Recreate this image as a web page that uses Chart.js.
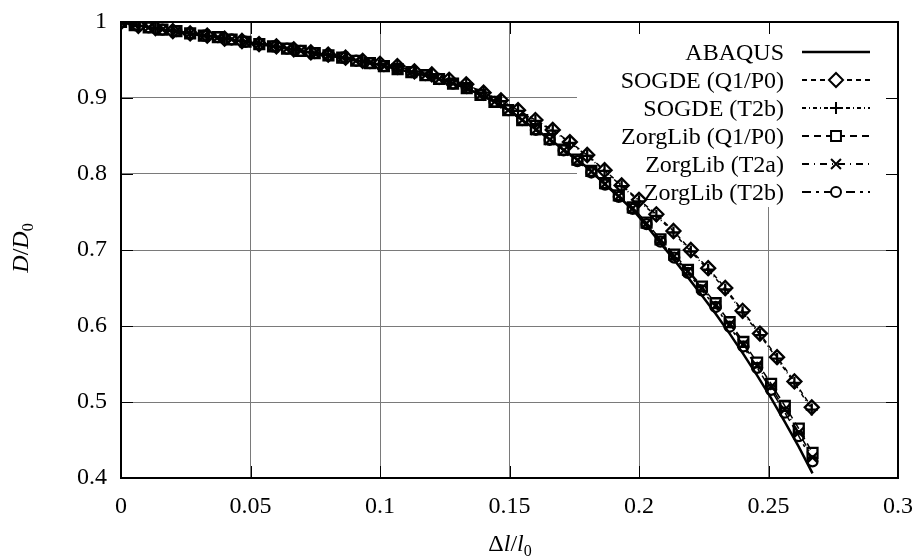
<!DOCTYPE html>
<html>
<head>
<meta charset="utf-8">
<script src="https://cdn.jsdelivr.net/npm/chart.js@4.4.1/dist/chart.umd.min.js"></script>
<style>
  html, body { margin: 0; padding: 0; background: #fff; }
  canvas { display: block; }
</style>
</head>
<body>
<canvas id="chart" width="915" height="559"></canvas>
<script>
const SERIF = '"Liberation Serif", "Times New Roman", serif';

const xTicks = [0, 0.05, 0.1, 0.15, 0.2, 0.25, 0.3];
const xTickLabels = ['0', '0.05', '0.1', '0.15', '0.2', '0.25', '0.3'];
const yTicks = [0.4, 0.5, 0.6, 0.7, 0.8, 0.9, 1];
const yTickLabels = ['0.4', '0.5', '0.6', '0.7', '0.8', '0.9', '1'];

const keyLabels = ['ABAQUS', 'SOGDE (Q1/P0)', 'SOGDE (T2b)', 'ZorgLib (Q1/P0)', 'ZorgLib (T2a)', 'ZorgLib (T2b)'];

// ZorgLib / ABAQUS load steps
const zorgX = [0, 0.0053, 0.0107, 0.0160, 0.0214, 0.0267, 0.0320, 0.0374, 0.0427, 0.0481,
  0.0534, 0.0587, 0.0641, 0.0694, 0.0748, 0.0801, 0.0854, 0.0908, 0.0961, 0.1015,
  0.1068, 0.1121, 0.1175, 0.1228, 0.1282, 0.1335, 0.1388, 0.1442, 0.1495, 0.1549,
  0.1602, 0.1655, 0.1709, 0.1762, 0.1816, 0.1869, 0.1922, 0.1976, 0.2029, 0.2083,
  0.2136, 0.2189, 0.2243, 0.2296, 0.2350, 0.2403, 0.2456, 0.2510, 0.2563, 0.2617, 0.2670];

const abaqus = [1.000, 0.996, 0.993, 0.990, 0.988, 0.985, 0.982, 0.980, 0.977, 0.974,
  0.971, 0.968, 0.965, 0.962, 0.959, 0.956, 0.953, 0.949, 0.946, 0.942,
  0.938, 0.934, 0.930, 0.925, 0.919, 0.913, 0.904, 0.895, 0.884, 0.871,
  0.859, 0.846, 0.832, 0.819, 0.804, 0.786, 0.770, 0.753, 0.732, 0.709,
  0.687, 0.664, 0.640, 0.616, 0.590, 0.563, 0.535, 0.505, 0.474, 0.441, 0.406];

const zorgQ1P0 = [1.000, 0.996, 0.993, 0.990, 0.988, 0.985, 0.982, 0.980, 0.977, 0.974,
  0.971, 0.968, 0.965, 0.962, 0.959, 0.956, 0.953, 0.949, 0.946, 0.942,
  0.938, 0.934, 0.930, 0.925, 0.919, 0.913, 0.904, 0.895, 0.884, 0.871,
  0.859, 0.846, 0.832, 0.819, 0.804, 0.788, 0.772, 0.756, 0.736, 0.714,
  0.694, 0.674, 0.652, 0.630, 0.605, 0.579, 0.552, 0.524, 0.495, 0.465, 0.433];

const zorgT2a = [1.000, 0.996, 0.993, 0.990, 0.988, 0.985, 0.982, 0.980, 0.977, 0.974,
  0.971, 0.968, 0.965, 0.962, 0.959, 0.956, 0.953, 0.949, 0.946, 0.942,
  0.938, 0.934, 0.930, 0.925, 0.919, 0.913, 0.904, 0.895, 0.884, 0.871,
  0.858, 0.845, 0.831, 0.818, 0.803, 0.787, 0.771, 0.755, 0.735, 0.713,
  0.692, 0.672, 0.650, 0.627, 0.602, 0.576, 0.548, 0.520, 0.490, 0.460, 0.427];

const zorgT2b = [1.000, 0.996, 0.993, 0.990, 0.988, 0.985, 0.982, 0.980, 0.977, 0.974,
  0.971, 0.968, 0.965, 0.962, 0.959, 0.956, 0.953, 0.949, 0.946, 0.942,
  0.938, 0.934, 0.930, 0.925, 0.919, 0.913, 0.904, 0.895, 0.884, 0.871,
  0.858, 0.845, 0.831, 0.817, 0.802, 0.786, 0.770, 0.754, 0.734, 0.711,
  0.690, 0.670, 0.647, 0.625, 0.599, 0.573, 0.545, 0.516, 0.486, 0.455, 0.422];

// SOGDE load steps
const sogdeX = [0, 0.0067, 0.0133, 0.0200, 0.0267, 0.0333, 0.0400, 0.0467, 0.0533, 0.0600,
  0.0667, 0.0733, 0.0800, 0.0867, 0.0933, 0.1000, 0.1067, 0.1133, 0.1200, 0.1267,
  0.1333, 0.1400, 0.1467, 0.1533, 0.1600, 0.1667, 0.1733, 0.1800, 0.1867, 0.1933,
  0.2000, 0.2067, 0.2133, 0.2200, 0.2267, 0.2333, 0.2400, 0.2467, 0.2533, 0.2600, 0.2667];

const sogdeQ1P0 = [1.000, 0.995, 0.992, 0.988, 0.985, 0.982, 0.978, 0.975, 0.971, 0.968,
  0.964, 0.960, 0.957, 0.953, 0.949, 0.945, 0.942, 0.935, 0.931, 0.924,
  0.918, 0.907, 0.897, 0.884, 0.871, 0.858, 0.842, 0.825, 0.805, 0.785,
  0.766, 0.747, 0.725, 0.700, 0.676, 0.650, 0.620, 0.590, 0.559, 0.527, 0.493];

const sogdeT2b = [1.000, 0.995, 0.992, 0.988, 0.985, 0.982, 0.978, 0.975, 0.971, 0.968,
  0.964, 0.960, 0.957, 0.953, 0.949, 0.945, 0.942, 0.935, 0.931, 0.924,
  0.918, 0.907, 0.896, 0.883, 0.870, 0.857, 0.841, 0.824, 0.804, 0.784,
  0.764, 0.745, 0.723, 0.698, 0.674, 0.648, 0.618, 0.588, 0.557, 0.525, 0.490];

const pts = (xs, ys) => xs.map((x, i) => ({ x, y: ys[i] }));

// line / marker styles, same order as keyLabels
const STYLES = [
  { dash: [], width: 2.5, point: false, radius: 0 },
  { dash: [5, 4], width: 1.5, point: 'rectRot', radius: 7 },
  { dash: [4, 3, 1, 3], width: 1.5, point: 'cross', radius: 6 },
  { dash: [7, 5], width: 1.5, point: 'rect', radius: 7 },
  { dash: [7, 5, 1, 5], width: 1.5, point: 'crossRot', radius: 7 },
  { dash: [9, 5, 3, 5], width: 1.5, point: 'circle', radius: 5 }
];

const seriesData = [
  pts(zorgX, abaqus),
  pts(sogdeX, sogdeQ1P0),
  pts(sogdeX, sogdeT2b),
  pts(zorgX, zorgQ1P0),
  pts(zorgX, zorgT2a),
  pts(zorgX, zorgT2b)
];

const datasets = seriesData.map((data, i) => {
  const s = STYLES[i];
  return {
    label: keyLabels[i],
    data,
    borderColor: '#000',
    borderWidth: s.width,
    borderDash: s.dash,
    pointStyle: s.point || 'circle',
    pointRadius: s.radius,
    pointBorderWidth: 2.3,
    pointBorderColor: '#000',
    pointBackgroundColor: 'rgba(0,0,0,0)',
    tension: 0,
    fill: false,
    order: i === 0 ? 0 : 1
  };
});

function drawRuns(ctx, parts, cx, cy) {
  let w = 0;
  parts.forEach(p => { ctx.font = p.font; w += ctx.measureText(p.t).width; });
  let x = cx - w / 2;
  parts.forEach(p => {
    ctx.font = p.font;
    ctx.fillText(p.t, x, cy + (p.dy || 0));
    x += ctx.measureText(p.t).width;
  });
}

const frame = {
  id: 'frame',
  beforeDatasetsDraw(chart) {
    const { ctx, chartArea: a, scales: { x, y } } = chart;
    ctx.save();
    // key box covers the grid
    ctx.fillStyle = '#fff';
    ctx.fillRect(577, a.top, a.right - 577, 207 - a.top);

    ctx.strokeStyle = '#000';
    ctx.lineWidth = 1;
    ctx.beginPath();
    xTicks.forEach(v => {
      const px = Math.round(x.getPixelForValue(v)) + 0.5;
      ctx.moveTo(px, a.bottom); ctx.lineTo(px, a.bottom - 12);
      ctx.moveTo(px, a.top); ctx.lineTo(px, a.top + 12);
    });
    yTicks.forEach(v => {
      const py = Math.round(y.getPixelForValue(v)) + 0.5;
      ctx.moveTo(a.left, py); ctx.lineTo(a.left + 12, py);
      ctx.moveTo(a.right, py); ctx.lineTo(a.right - 12, py);
    });
    ctx.stroke();
    ctx.lineWidth = 2;
    ctx.strokeRect(a.left, a.top, a.right - a.left, a.bottom - a.top);
    ctx.restore();
  },
  afterDraw(chart) {
    const { ctx } = chart;
    ctx.save();
    ctx.fillStyle = '#000';
    ctx.textBaseline = 'alphabetic';

    // key
    keyLabels.forEach((lab, i) => {
      const s = STYLES[i];
      const cy = 52 + i * 28;
      ctx.font = '24px ' + SERIF;
      ctx.textAlign = 'right';
      ctx.fillText(lab, 784, cy + 8);
      ctx.strokeStyle = '#000';
      ctx.lineWidth = i === 0 ? 2.5 : 2;
      ctx.setLineDash(s.dash);
      ctx.beginPath();
      ctx.moveTo(802, cy); ctx.lineTo(870, cy);
      ctx.stroke();
      ctx.setLineDash([]);
      if (s.point) {
        ctx.fillStyle = '#fff';
        ctx.lineWidth = 2;
        Chart.helpers.drawPoint(ctx, { pointStyle: s.point, radius: s.radius, borderWidth: 2, rotation: 0 }, 836, cy);
        ctx.fillStyle = '#000';
      }
    });

    // axis titles
    ctx.textAlign = 'left';
    const big = '24px ' + SERIF, ital = 'italic 24px ' + SERIF, sub = '16px ' + SERIF;
    drawRuns(ctx, [
      { t: 'Δ', font: big }, { t: 'l', font: ital }, { t: '/', font: big },
      { t: 'l', font: ital }, { t: '0', font: sub, dy: 5 }
    ], 510, 551);

    ctx.translate(28, 248);
    ctx.rotate(-Math.PI / 2);
    drawRuns(ctx, [
      { t: 'D', font: ital }, { t: '/', font: big },
      { t: 'D', font: ital }, { t: '0', font: sub, dy: 5 }
    ], 0, 0);
    ctx.restore();
  }
};

new Chart(document.getElementById('chart'), {
  type: 'line',
  data: { datasets },
  options: {
    responsive: false,
    animation: false,
    devicePixelRatio: 1,
    layout: { padding: { top: 22, right: 17, left: 0, bottom: 0 } },
    plugins: { legend: { display: false }, tooltip: { enabled: false } },
    scales: {
      x: {
        type: 'linear', min: 0, max: 0.3,
        afterBuildTicks: s => { s.ticks = xTicks.map(v => ({ value: v })); },
        afterFit: s => { s.height = 81; s.paddingLeft = 0; s.paddingRight = 0; },
        grid: { color: '#7a7a7a', lineWidth: 1, drawTicks: false },
        border: { display: false },
        ticks: {
          padding: 14, color: '#000', maxRotation: 0,
          font: { family: SERIF, size: 24 },
          callback: (v, i) => xTickLabels[i]
        }
      },
      y: {
        type: 'linear', min: 0.4, max: 1,
        afterBuildTicks: s => { s.ticks = yTicks.map(v => ({ value: v })); },
        afterFit: s => { s.width = 121; s.paddingTop = 0; s.paddingBottom = 0; },
        grid: { color: '#7a7a7a', lineWidth: 1, drawTicks: false },
        border: { display: false },
        ticks: {
          padding: 14, color: '#000',
          font: { family: SERIF, size: 24 },
          callback: (v, i) => yTickLabels[i]
        }
      }
    }
  },
  plugins: [frame]
});
</script>
</body>
</html>
